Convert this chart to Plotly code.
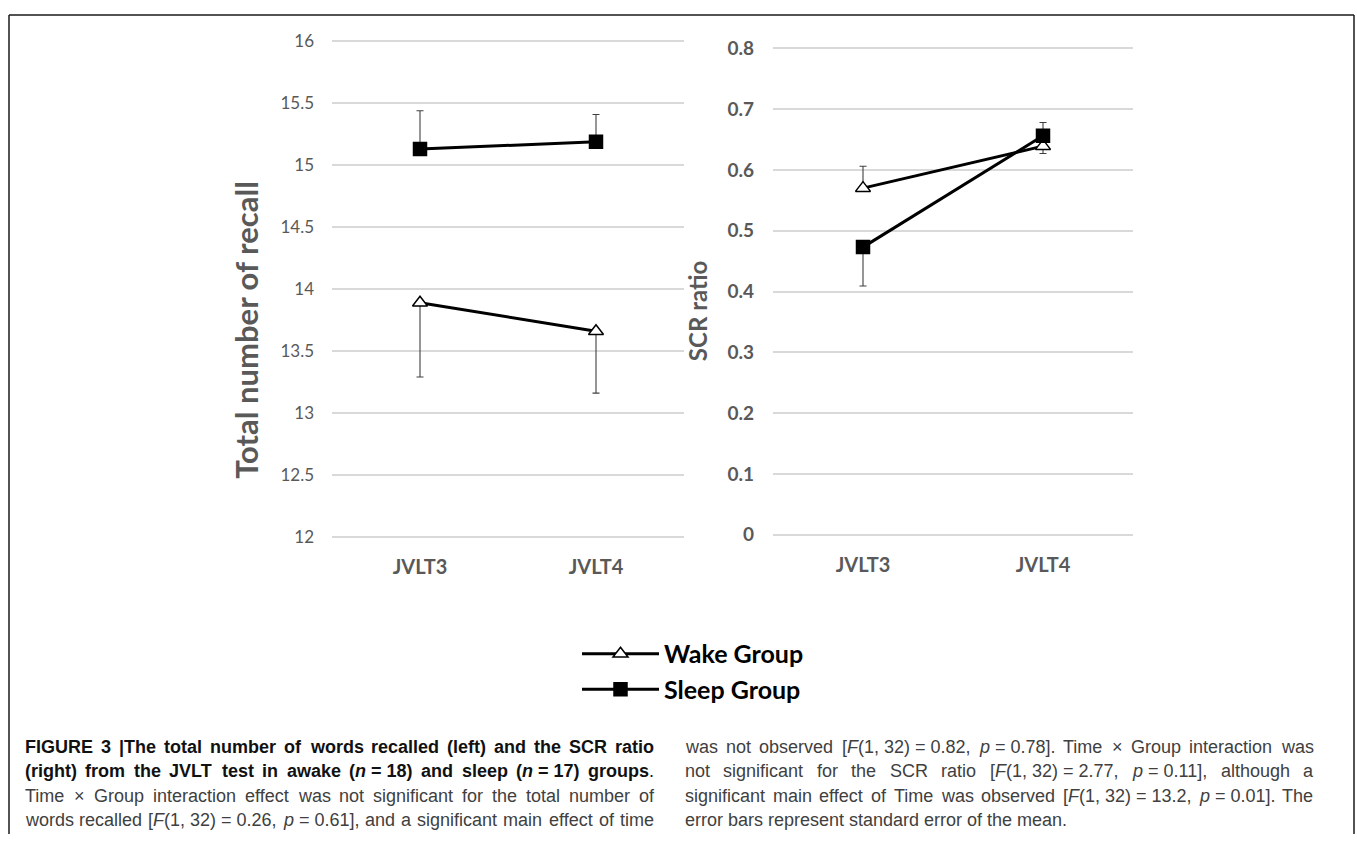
import plotly.graph_objects as go

W, H = 1357, 841

categories = ["JVLT3", "JVLT4"]

recall_wake = [13.89, 13.66]
recall_wake_err_plus = [0.0, 0.0]
recall_wake_err_minus = [0.60, 0.50]
recall_sleep = [15.13, 15.19]
recall_sleep_err_plus = [0.31, 0.22]
recall_sleep_err_minus = [0.0, 0.0]

scr_wake = [0.570, 0.639]
scr_wake_err_plus = [0.036, 0.0]
scr_wake_err_minus = [0.0, 0.012]
scr_sleep = [0.473, 0.656]
scr_sleep_err_plus = [0.0, 0.022]
scr_sleep_err_minus = [0.064, 0.0]

recall_ticks = [12, 12.5, 13, 13.5, 14, 14.5, 15, 15.5, 16]
scr_ticks = [0, 0.1, 0.2, 0.3, 0.4, 0.5, 0.6, 0.7, 0.8]

series_names = ["Wake Group", "Sleep Group"]

CHART_FONT = "Lato"
GRAY = "#595959"


def px(x):
    return x / W


def py(y):
    return 1 - y / H


def padded(lo, hi, ylo_px, yhi_px, pad):
    """axis range padded by `pad` data units with a domain that keeps lo/hi at the given pixels"""
    ppu = (ylo_px - yhi_px) / (hi - lo)
    rng = [lo - pad, hi + pad]
    dom = [py(ylo_px + pad * ppu), py(yhi_px - pad * ppu)]
    return rng, dom


fig = go.Figure()


def add_series(xa, ya, y, ep, em, name, symbol, showlegend):
    fig.add_trace(go.Scatter(
        x=categories, y=y, xaxis=xa, yaxis=ya, name=name,
        mode="lines+markers",
        line=dict(color="black", width=3),
        marker=dict(symbol=symbol, size=13,
                    color="white" if "triangle" in symbol else "black",
                    line=dict(color="black", width=1.5)),
        error_y=dict(type="data", symmetric=False, array=ep, arrayminus=em,
                     color="#404040", thickness=1.1, width=3.5),
        showlegend=showlegend, legendgroup=name,
    ))


add_series("x", "y", recall_wake, recall_wake_err_plus, recall_wake_err_minus,
           series_names[0], "triangle-up", True)
add_series("x", "y", recall_sleep, recall_sleep_err_plus, recall_sleep_err_minus,
           series_names[1], "square", True)
add_series("x2", "y2", scr_wake, scr_wake_err_plus, scr_wake_err_minus,
           series_names[0], "triangle-up", False)
add_series("x2", "y2", scr_sleep, scr_sleep_err_plus, scr_sleep_err_minus,
           series_names[1], "square", False)

xcommon = dict(
    type="category", range=[-0.5, 1.5], showgrid=False, zeroline=False,
    showline=False, ticks="",
    tickfont=dict(family=CHART_FONT, size=20, color=GRAY, weight="bold"),
)
ycommon = dict(
    showgrid=True, gridcolor="#d9d9d9", gridwidth=1.5, zeroline=False,
    showline=False, ticks="",
)

y1_range, y1_dom = padded(12, 16, 538, 33, 0.03)
y2_range, y2_dom = padded(0, 0.8, 536, 40, 0.006)
pad1 = 0.03 * (538 - 33) / 4
pad2 = 0.006 * (536 - 40) / 0.8

fig.update_layout(
    width=W, height=H,
    margin=dict(l=0, r=0, t=0, b=0),
    paper_bgcolor="white", plot_bgcolor="white",
    xaxis=dict(domain=[px(332), px(684)], anchor="y",
               ticklabelstandoff=round(17 - pad1), **xcommon),
    xaxis2=dict(domain=[px(773), px(1133)], anchor="y2",
                ticklabelstandoff=round(17 - pad2), **xcommon),
    yaxis=dict(domain=y1_dom, anchor="x", range=y1_range,
               tickvals=recall_ticks, ticktext=[f"{v:g}" for v in recall_ticks],
               ticklabelstandoff=17,
               tickfont=dict(family=CHART_FONT, size=17, color=GRAY), **ycommon),
    yaxis2=dict(domain=y2_dom, anchor="x2", range=y2_range,
                tickvals=scr_ticks, ticktext=[f"{v:g}" for v in scr_ticks],
                ticklabelstandoff=18,
                tickfont=dict(family=CHART_FONT, size=19, color=GRAY, weight="bold"),
                **ycommon),
    legend=dict(x=px(577), y=py(634), xanchor="left", yanchor="top",
                orientation="v", itemwidth=77,
                font=dict(family=CHART_FONT, size=25, color="black", weight="bold"),
                bgcolor="rgba(0,0,0,0)", tracegroupgap=0),
    showlegend=True,
)

annotations = [
    dict(text="Total number of recall", x=px(246), y=py(327), textangle=-90,
         font=dict(family=CHART_FONT, size=31, color=GRAY, weight="bold")),
    dict(text="SCR ratio", x=px(697), y=py(308), textangle=-90,
         font=dict(family=CHART_FONT, size=24, color=GRAY, weight="bold")),
]
for a in annotations:
    a.update(xref="paper", yref="paper", showarrow=False,
             xanchor="center", yanchor="middle")
    fig.add_annotation(**a)

# ---------------- caption (justified two-column text) ----------------
CAP_FONT = "Liberation Sans"
CAP_SIZE = 18
NB = "\u00a0"

REG = {' ': 278, '!': 278, '(': 333, ')': 333, ',': 278, '-': 333, '.': 278,
       ':': 278, ';': 278, '=': 584, '[': 278, ']': 278, '|': 260, '\u00d7': 584,
       NB: 278,
       'A': 667, 'B': 667, 'C': 722, 'D': 722, 'E': 667, 'F': 611, 'G': 778,
       'H': 722, 'I': 278, 'J': 500, 'K': 667, 'L': 556, 'M': 833, 'N': 722,
       'O': 778, 'P': 667, 'Q': 778, 'R': 722, 'S': 667, 'T': 611, 'U': 722,
       'V': 667, 'W': 944, 'X': 667, 'Y': 667, 'Z': 611,
       'a': 556, 'b': 556, 'c': 500, 'd': 556, 'e': 556, 'f': 278, 'g': 556,
       'h': 556, 'i': 222, 'j': 222, 'k': 500, 'l': 222, 'm': 833, 'n': 556,
       'o': 556, 'p': 556, 'q': 556, 'r': 333, 's': 500, 't': 278, 'u': 556,
       'v': 500, 'w': 722, 'x': 500, 'y': 500, 'z': 500}
BOLD = dict(REG)
BOLD.update({'[': 333, ']': 333, '|': 280,
             'A': 722, 'B': 722, 'J': 556, 'K': 722, 'L': 611,
             'b': 611, 'c': 556, 'd': 611, 'f': 333, 'g': 611, 'h': 611,
             'i': 278, 'j': 278, 'k': 556, 'l': 278, 'm': 889, 'n': 611,
             'o': 611, 'p': 611, 'q': 611, 'r': 389, 's': 556, 't': 333,
             'u': 611, 'v': 556, 'w': 778, 'x': 556, 'y': 556})
for d in "0123456789":
    REG[d] = 556
    BOLD[d] = 556


def run_width(text, style):
    table = BOLD if "b" in style else REG
    return sum(table.get(ch, 556) for ch in text) * CAP_SIZE / 1000.0


def wrap(text, style):
    s = text
    if "i" in style:
        s = f"<i>{s}</i>"
    if "b" in style:
        s = f"<b>{s}</b>"
    return s


def split_words(runs):
    words, cur = [], []
    for text, style in runs:
        parts = text.split(" ")
        for k, p in enumerate(parts):
            if k > 0 and cur:
                words.append(cur)
                cur = []
            if p:
                cur.append((p, style))
    if cur:
        words.append(cur)
    return words


left_col = (25, 654)
right_col = (685, 1313)
line_y = [752, 777, 802, 827]

left_lines = [
    [("FIGURE 3 |The total number of words recalled (left) and the SCR ratio", "b")],
    [("(right) from the JVLT test in awake (", "b"), ("n", "bi"),
     (NB + "=" + NB + "18) and sleep (", "b"), ("n", "bi"),
     (NB + "=" + NB + "17) groups", "b"), (".", "")],
    [("Time \u00d7 Group interaction effect was not significant for the total number of", "")],
    [("words recalled [", ""), ("F", "i"), ("(1," + NB + "32)" + NB + "=" + NB + "0.26, ", ""),
     ("p", "i"), (NB + "=" + NB + "0.61], and a significant main effect of time", "")],
]
right_lines = [
    [("was not observed [", ""), ("F", "i"), ("(1," + NB + "32)" + NB + "=" + NB + "0.82, ", ""),
     ("p", "i"), (NB + "=" + NB + "0.78]. Time \u00d7 Group interaction was", "")],
    [("not significant for the SCR ratio [", ""), ("F", "i"),
     ("(1," + NB + "32)" + NB + "=" + NB + "2.77, ", ""), ("p", "i"),
     (NB + "=" + NB + "0.11], although a", "")],
    [("significant main effect of Time was observed [", ""), ("F", "i"),
     ("(1," + NB + "32)" + NB + "=" + NB + "13.2, ", ""), ("p", "i"),
     (NB + "=" + NB + "0.01]. The", "")],
    [("error bars represent standard error of the mean.", "")],
]


def place_line(runs, col, yline, justify, color):
    x0, x1 = col
    words = split_words(runs)
    widths = [sum(run_width(t, s) for t, s in w) for w in words]
    space = REG[' '] * CAP_SIZE / 1000.0
    if justify and len(words) > 1:
        gap = max(space, (x1 - x0 - sum(widths)) / (len(words) - 1))
    else:
        gap = space
    x = x0
    for w, wd in zip(words, widths):
        html = "".join(wrap(t, s) for t, s in w)
        fig.add_annotation(text=html, x=px(x), y=py(yline), xref="paper", yref="paper",
                           showarrow=False, xanchor="left", yanchor="middle",
                           borderpad=0, borderwidth=0,
                           font=dict(family=CAP_FONT, size=CAP_SIZE, color=color))
        x += wd + gap


for i, runs in enumerate(left_lines):
    place_line(runs, left_col, line_y[i], True, "#111111" if i < 2 else "#404040")
for i, runs in enumerate(right_lines):
    place_line(runs, right_col, line_y[i], i < 3, "#404040")

# frame around the figure panel
border = dict(type="line", xref="paper", yref="paper",
              line=dict(color="#1a1a1a", width=1.5))
fig.add_shape(x0=px(9), x1=px(1354), y0=py(6), y1=py(6), **border)
fig.add_shape(x0=px(9), x1=px(9), y0=py(6), y1=0, **border)
fig.add_shape(x0=px(1354), x1=px(1354), y0=py(6), y1=0, **border)

fig.write_html("out.html", config={"displayModeBar": False},
               post_script="document.body.style.margin='0';")
